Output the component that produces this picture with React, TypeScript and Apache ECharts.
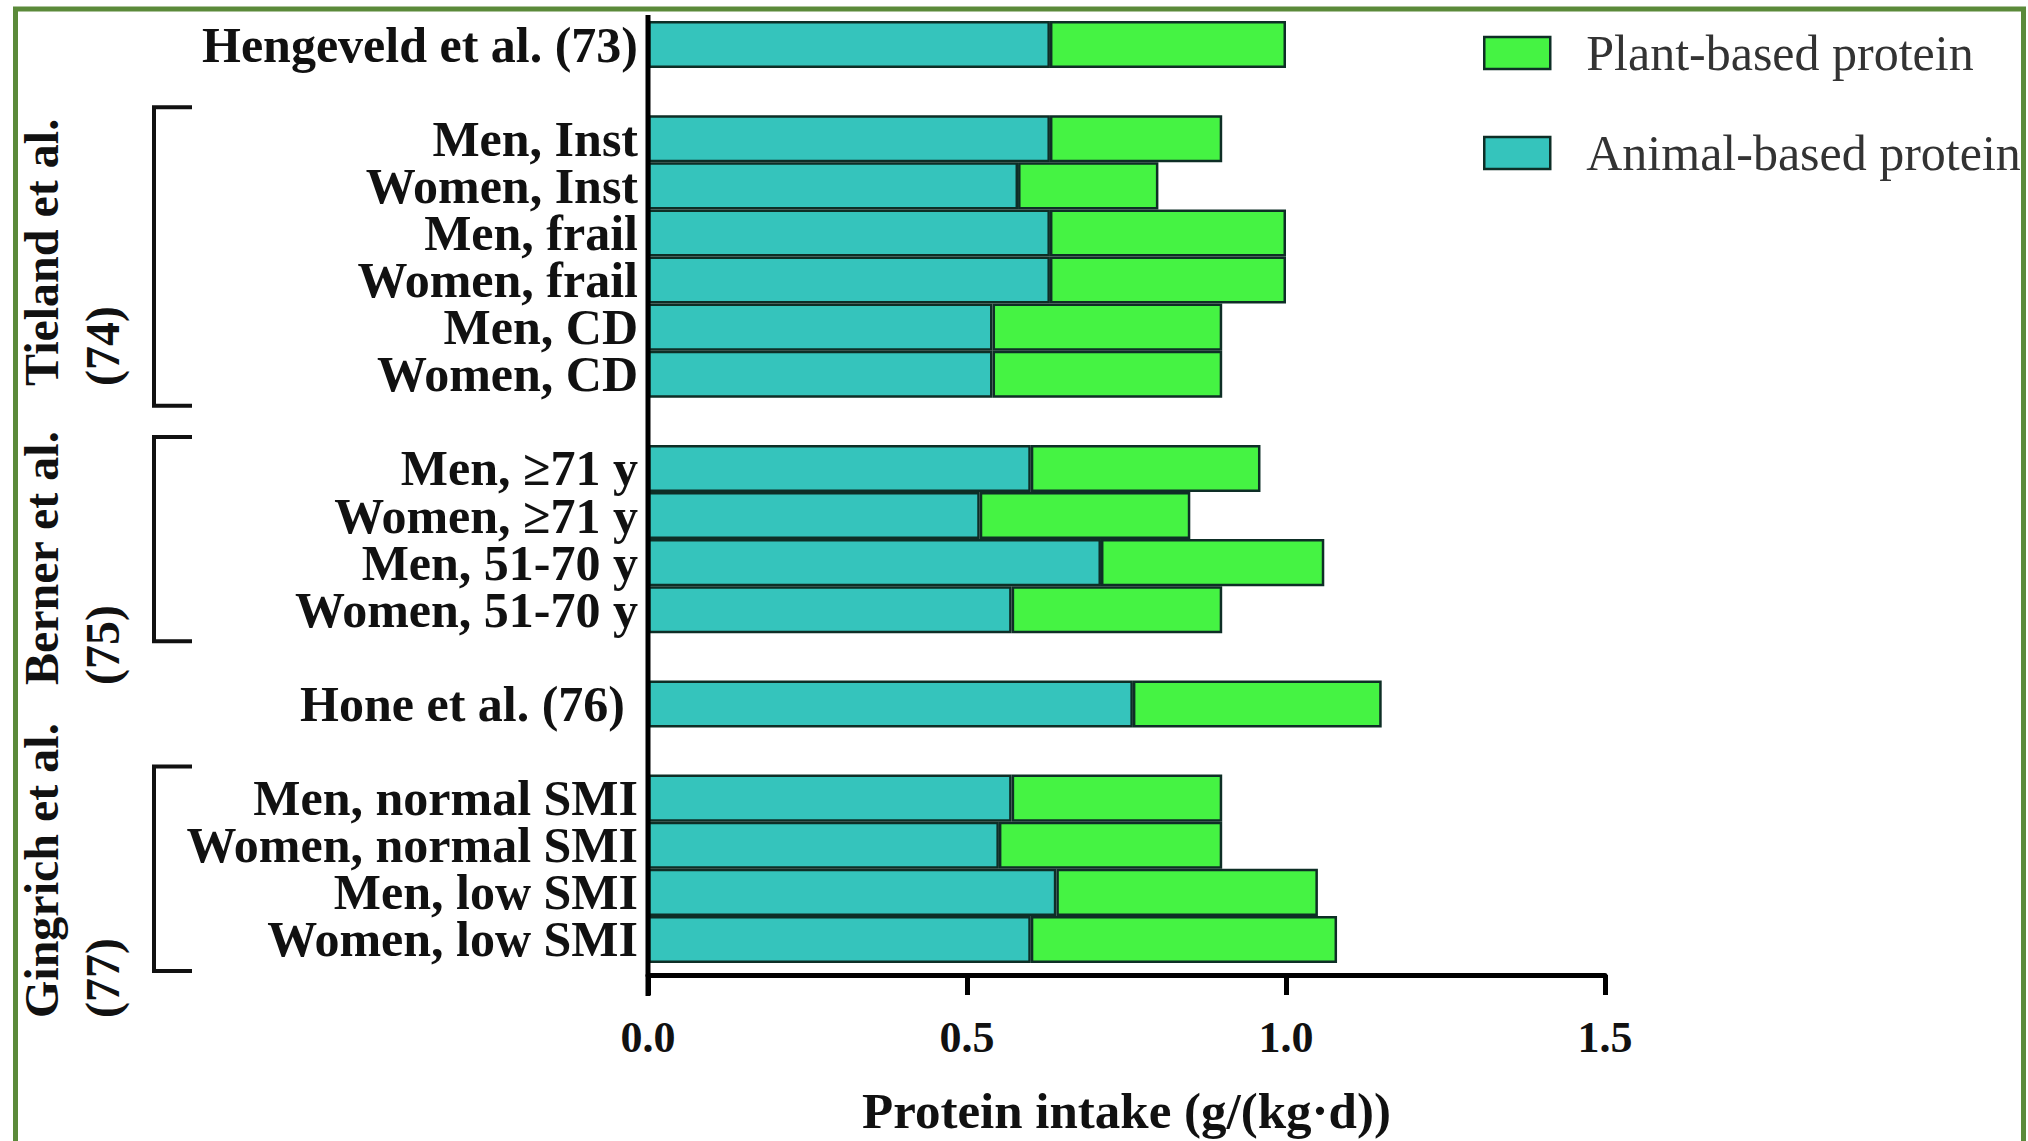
import React, { useEffect, useRef } from "react";
import * as echarts from "echarts";

// ---- data ----
const categories = [
  "Hengeveld et al. (73)",
  " ",
  "Men, Inst",
  "Women, Inst",
  "Men, frail",
  "Women, frail",
  "Men, CD",
  "Women, CD",
  "  ",
  "Men, ≥71 y",
  "Women, ≥71 y",
  "Men, 51-70 y",
  "Women, 51-70 y",
  "   ",
  "Hone et al. (76)",
  "    ",
  "Men, normal SMI",
  "Women, normal SMI",
  "Men, low SMI",
  "Women, low SMI",
];
const animalProtein = [0.63, null, 0.63, 0.58, 0.63, 0.63, 0.54, 0.54, null, 0.6, 0.52, 0.71, 0.57, null, 0.76, null, 0.57, 0.55, 0.64, 0.6];
const plantProtein = [0.37, null, 0.27, 0.22, 0.37, 0.37, 0.36, 0.36, null, 0.36, 0.33, 0.35, 0.33, null, 0.39, null, 0.33, 0.35, 0.41, 0.48];
const seriesNames = ["Animal-based protein", "Plant-based protein"];
const legendOrder = ["Plant-based protein", "Animal-based protein"];
const xMin = 0;
const xMax = 1.5;
const xInterval = 0.5;
const xTitle = "Protein intake (g/(kg·d))";
const groups = [
  { title: "Tieland et al.", ref: "(74)", first: 2, last: 7, start: 386 },
  { title: "Berner et al.", ref: "(75)", first: 9, last: 12, start: 685 },
  { title: "Gingrich et al.", ref: "(77)", first: 16, last: 19, start: 1018 },
];

const FONT = '"Liberation Serif", "Times New Roman", serif';
const TEAL = "#35C4BC";
const GREEN = "#45F343";
const EDGE = "#0E2E26";

export default function App() {
  const ref = useRef<HTMLDivElement>(null);
  useEffect(() => {
    if (!ref.current) return;
    const chart = echarts.init(ref.current, null, { renderer: "svg" });
    const hone = "Hone et al. (76)";
    chart.setOption({
      animation: false,
      backgroundColor: "#ffffff",
      grid: { left: 648, right: 423, top: 21, bottom: 177, containLabel: false },
      legend: {
        orient: "vertical",
        left: 1478,
        top: 23,
        itemWidth: 66,
        itemHeight: 32,
        itemGap: 50,
        icon: "rect",
        data: legendOrder,
        itemStyle: { borderColor: EDGE, borderWidth: 2.5 },
        formatter: "{a|{name}}",
        textStyle: {
          fontFamily: FONT,
          fontSize: 50,
          color: "#333",
          rich: { a: { fontFamily: FONT, fontSize: 50, color: "#333", padding: [0, 0, 0, 31] } },
        },
      },
      xAxis: {
        type: "value",
        min: xMin,
        max: xMax,
        interval: xInterval,
        offset: 12,
        splitLine: { show: false },
        axisLine: { show: true, lineStyle: { color: "#000", width: 5 } },
        axisTick: { show: true, length: 20, lineStyle: { color: "#000", width: 5 } },
        axisLabel: {
          formatter: (v: number) => v.toFixed(1),
          fontFamily: FONT,
          fontWeight: "bold",
          fontSize: 44,
          color: "#111",
          margin: 40,
        },
        name: xTitle,
        nameLocation: "middle",
        nameGap: 110,
        nameTextStyle: { fontFamily: FONT, fontWeight: "bold", fontSize: 51, color: "#111" },
      },
      yAxis: {
        type: "category",
        data: categories,
        inverse: true,
        axisLine: { show: false },
        axisTick: { show: false },
        axisLabel: {
          interval: 0,
          margin: 10,
          fontFamily: FONT,
          fontWeight: "bold",
          fontSize: 50,
          color: "#111",
          formatter: (v: string) => (v === hone ? `{h|${v}}` : v),
          rich: {
            h: { fontFamily: FONT, fontWeight: "bold", fontSize: 50, color: "#111", padding: [0, 13, 0, 0] },
          },
        },
      },
      series: [
        {
          name: seriesNames[0],
          type: "bar",
          stack: "total",
          data: animalProtein,
          barCategoryGap: "0%",
          itemStyle: { color: TEAL, borderColor: EDGE, borderWidth: 2.5 },
        },
        {
          name: seriesNames[1],
          type: "bar",
          stack: "total",
          data: plantProtein,
          barCategoryGap: "0%",
          itemStyle: { color: GREEN, borderColor: EDGE, borderWidth: 2.5 },
        },
      ],
    });

    const yc = (i: number) => chart.convertToPixel({ yAxisIndex: 0 }, i) as number;
    const x0 = chart.convertToPixel({ xAxisIndex: 0 }, 0) as number;
    const pitch = Math.abs(yc(1) - yc(0));
    const graphics: any[] = [];
    graphics.push({
      type: "line",
      shape: { x1: x0, y1: 15, x2: x0, y2: 996 },
      style: { stroke: "#000", lineWidth: 5 },
      z: 50,
    });
    groups.forEach((g) => {
      const top = yc(g.first) - pitch / 2 - 8;
      const bottom = yc(g.last) + pitch / 2 + 8;
      graphics.push({
        type: "polyline",
        shape: { points: [[192, top], [154, top], [154, bottom], [192, bottom]] },
        style: { stroke: "#111", lineWidth: 4, fill: null },
      });
      graphics.push({
        type: "text",
        x: 11,
        y: g.start,
        rotation: Math.PI / 2,
        style: {
          text: `${g.title}\n${g.ref}`,
          font: `bold 48px ${FONT}`,
          fill: "#111",
          align: "left",
          verticalAlign: "top",
          lineHeight: 61,
        },
      });
    });
    graphics.push({
      type: "rect",
      shape: { x: 15.5, y: 9, width: 2008, height: 1200 },
      style: { fill: null, stroke: "#5B8A3A", lineWidth: 5 },
      z: 100,
    });
    chart.setOption({ graphic: graphics });

    return () => chart.dispose();
  }, []);
  return (
    <div
      ref={ref}
      style={{ position: "fixed", left: 0, top: 0, width: 2028, height: 1141, background: "#fff" }}
    />
  );
}
